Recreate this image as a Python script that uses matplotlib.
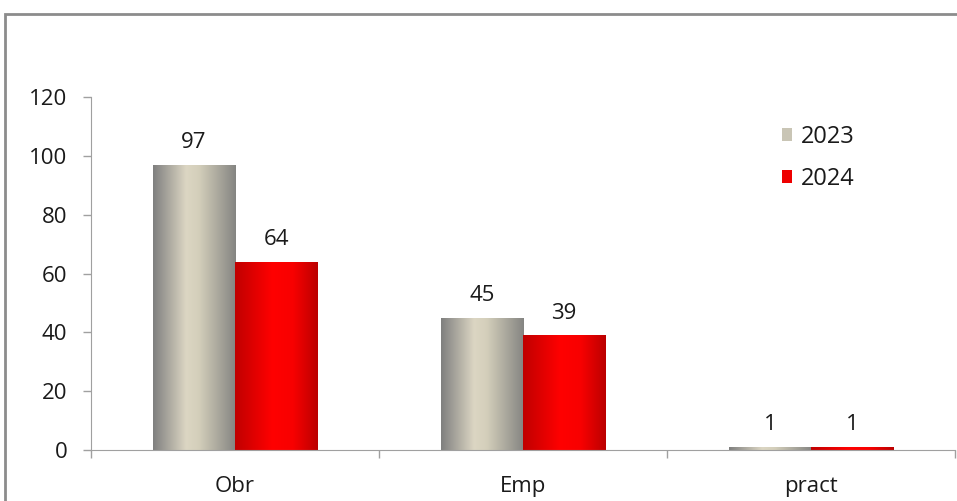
import matplotlib
matplotlib.use('Agg')
import matplotlib.pyplot as plt
import numpy as np
from matplotlib.colors import LinearSegmentedColormap
from matplotlib.patches import Rectangle

categories = ['Obr', 'Emp', 'pract']
years = ['2023', '2024']
values_2023 = [97, 45, 1]
values_2024 = [64, 39, 1]

plt.rcParams['font.family'] = ['Open Sans', 'DejaVu Sans']

# shaded "cylinder" look for each series
gray_cmap = LinearSegmentedColormap.from_list(
    'gray_cyl', [(0, '#7f7f7f'), (0.4, '#dcd6c3'), (0.55, '#d4cfbb'), (1, '#858582')])
red_cmap = LinearSegmentedColormap.from_list(
    'red_cyl', [(0, '#c00000'), (0.45, '#ff0000'), (0.7, '#f80000'), (1, '#bb0000')])

fig = plt.figure(figsize=(9.57, 5.01), dpi=100)
ax = fig.add_axes([91 / 957, 51 / 501, 864 / 957, 353 / 501])

# outer frame
fig.patches.append(Rectangle((5 / 957, -0.1), 1.0, (501 - 14) / 501 + 0.1,
                             transform=fig.transFigure, fill=False,
                             edgecolor='#8c8c8c', linewidth=2))

x = np.arange(len(categories))
w = 0.285
bars_a = ax.bar(x - w / 2, values_2023, w, color='none', label=years[0])
bars_b = ax.bar(x + w / 2, values_2024, w, color='none', label=years[1])

grad = np.linspace(0, 1, 256).reshape(1, -1)


def shade(bars, cmap):
    for b in bars:
        x0, y0 = b.get_x(), b.get_y()
        im = ax.imshow(grad, cmap=cmap, aspect='auto', interpolation='bilinear',
                       extent=(x0, x0 + b.get_width(), y0, y0 + b.get_height()),
                       zorder=2)
        im.set_clip_path(b)


shade(bars_a, gray_cmap)
shade(bars_b, red_cmap)

for bars in (bars_a, bars_b):
    for b in bars:
        ax.annotate(f'{b.get_height():g}', (b.get_x() + b.get_width() / 2, b.get_height()),
                    xytext=(0, 12), textcoords='offset points', ha='center', va='baseline',
                    fontsize=16, color='#1a1a1a')

ax.set_xlim(-0.5, len(categories) - 0.5)
ax.set_ylim(0, 120)
ax.set_yticks(np.arange(0, 121, 20))
ax.set_xticks(x)
ax.set_xticklabels(categories)
ax.set_xticks(np.arange(-0.5, len(categories), 1), minor=True)

ax.tick_params(axis='y', length=6, width=1, color='#a0a0a0', labelsize=16,
               labelcolor='#1a1a1a', pad=11)
ax.tick_params(axis='x', which='major', length=0, labelsize=16, labelcolor='#1a1a1a', pad=19)
ax.tick_params(axis='x', which='minor', length=6, width=1, color='#a0a0a0')

for s in ('top', 'right'):
    ax.spines[s].set_visible(False)
for s in ('left', 'bottom'):
    ax.spines[s].set_color('#a0a0a0')

handles = [Rectangle((0, 0), 1, 1, facecolor='#c9c5b5'), Rectangle((0, 0), 1, 1, facecolor='#ee0000')]
leg = ax.legend(handles, years, loc='upper left', bbox_to_anchor=(0.775, 0.981), frameon=False,
                fontsize=17, handlelength=0.45, handleheight=0.45, handletextpad=0.35,
                labelspacing=0.75)
for t in leg.get_texts():
    t.set_color('#1a1a1a')

fig.savefig('out.png', dpi=100)
